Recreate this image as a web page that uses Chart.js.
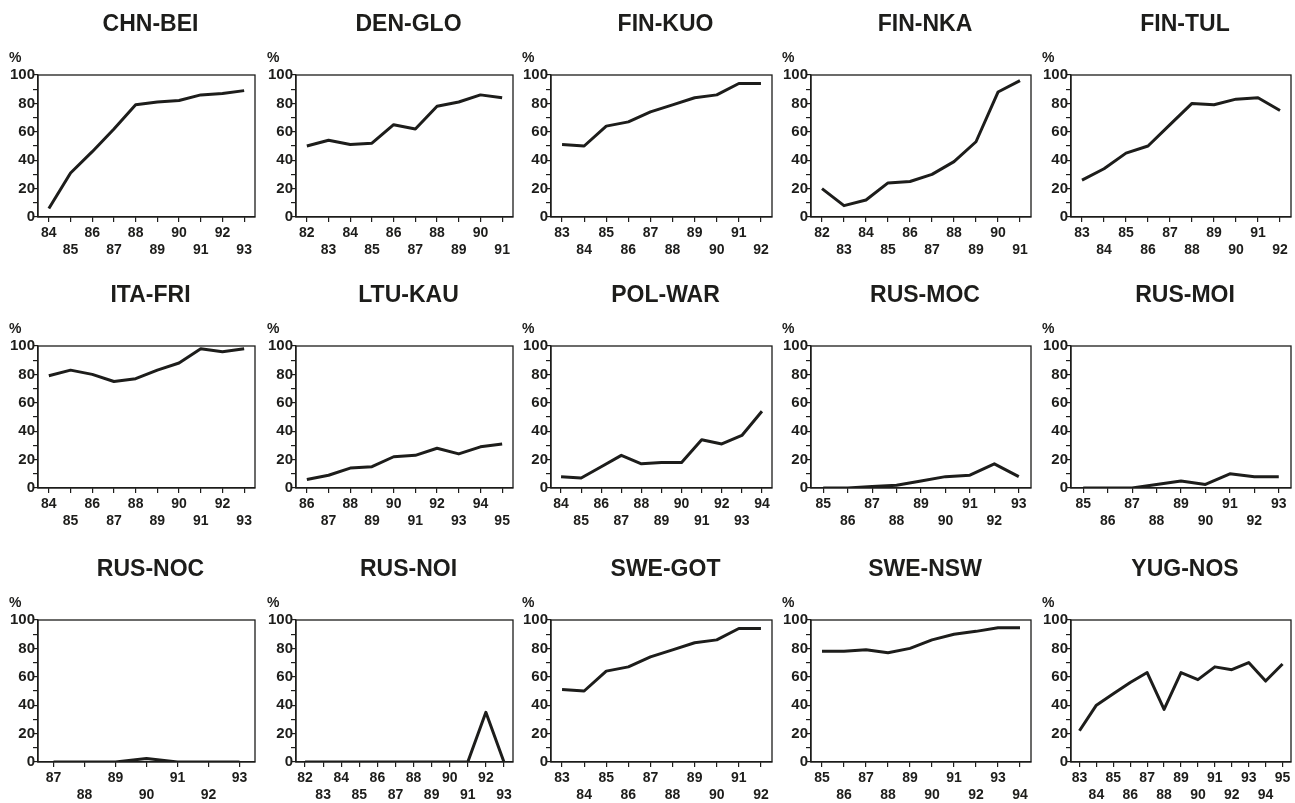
<!DOCTYPE html>
<html>
<head>
<meta charset="utf-8">
<title>Panels</title>
<script src="https://cdn.jsdelivr.net/npm/chart.js@4.4.0/dist/chart.umd.min.js"></script>
<style>
  html, body { margin: 0; padding: 0; background: #fff; }
  #wrap { position: relative; width: 1295px; height: 803px; overflow: hidden; }
  #wrap canvas { position: absolute; }
</style>
</head>
<body>
<div id="wrap"></div>
<script>
// values, one pair of arrays per panel
const chnBeiYears = ['84', '85', '86', '87', '88', '89', '90', '91', '92', '93'];
const chnBeiValues = [6, 31, 46, 62, 79, 81, 82, 86, 87, 89];

const denGloYears = ['82', '83', '84', '85', '86', '87', '88', '89', '90', '91'];
const denGloValues = [50, 54, 51, 52, 65, 62, 78, 81, 86, 84];

const finKuoYears = ['83', '84', '85', '86', '87', '88', '89', '90', '91', '92'];
const finKuoValues = [51, 50, 64, 67, 74, 79, 84, 86, 94, 94];

const finNkaYears = ['82', '83', '84', '85', '86', '87', '88', '89', '90', '91'];
const finNkaValues = [20, 8, 12, 24, 25, 30, 39, 53, 88, 96];

const finTulYears = ['83', '84', '85', '86', '87', '88', '89', '90', '91', '92'];
const finTulValues = [26, 34, 45, 50, 65, 80, 79, 83, 84, 75];

const itaFriYears = ['84', '85', '86', '87', '88', '89', '90', '91', '92', '93'];
const itaFriValues = [79, 83, 80, 75, 77, 83, 88, 98, 96, 98];

const ltuKauYears = ['86', '87', '88', '89', '90', '91', '92', '93', '94', '95'];
const ltuKauValues = [6, 9, 14, 15, 22, 23, 28, 24, 29, 31];

const polWarYears = ['84', '85', '86', '87', '88', '89', '90', '91', '92', '93', '94'];
const polWarValues = [8, 7, 15, 23, 17, 18, 18, 34, 31, 37, 54];

const rusMocYears = ['85', '86', '87', '88', '89', '90', '91', '92', '93'];
const rusMocValues = [0, 0, 1, 2, 5, 8, 9, 17, 8];

const rusMoiYears = ['85', '86', '87', '88', '89', '90', '91', '92', '93'];
const rusMoiValues = [0, 0, 0, 2.5, 5, 2.5, 10, 8, 8];

const rusNocYears = ['87', '88', '89', '90', '91', '92', '93'];
const rusNocValues = [0, 0, 0, 2.5, 0, 0, 0];

const rusNoiYears = ['82', '83', '84', '85', '86', '87', '88', '89', '90', '91', '92', '93'];
const rusNoiValues = [0, 0, 0, 0, 0, 0, 0, 0, 0, 0, 35, 0];

const sweGotYears = ['83', '84', '85', '86', '87', '88', '89', '90', '91', '92'];
const sweGotValues = [51, 50, 64, 67, 74, 79, 84, 86, 94, 94];

const sweNswYears = ['85', '86', '87', '88', '89', '90', '91', '92', '93', '94'];
const sweNswValues = [78, 78, 79, 77, 80, 86, 90, 92, 94.5, 94.5];

const yugNosYears = ['83', '84', '85', '86', '87', '88', '89', '90', '91', '92', '93', '94', '95'];
const yugNosValues = [22, 40, 48, 56, 63, 37, 63, 58, 67, 65, 70, 57, 69];

const panelTitles = ['CHN-BEI', 'DEN-GLO', 'FIN-KUO', 'FIN-NKA', 'FIN-TUL',
                     'ITA-FRI', 'LTU-KAU', 'POL-WAR', 'RUS-MOC', 'RUS-MOI',
                     'RUS-NOC', 'RUS-NOI', 'SWE-GOT', 'SWE-NSW', 'YUG-NOS'];
const panelYears = [chnBeiYears, denGloYears, finKuoYears, finNkaYears, finTulYears,
                    itaFriYears, ltuKauYears, polWarYears, rusMocYears, rusMoiYears,
                    rusNocYears, rusNoiYears, sweGotYears, sweNswYears, yugNosYears];
const panelValues = [chnBeiValues, denGloValues, finKuoValues, finNkaValues, finTulValues,
                     itaFriValues, ltuKauValues, polWarValues, rusMocValues, rusMoiValues,
                     rusNocValues, rusNoiValues, sweGotValues, sweNswValues, yugNosValues];

const yUnit = '%';

// layout of the 5 x 3 grid
const colLeft = [0, 258, 513, 773, 1033];
const colWidth = [259, 259, 263, 262, 262];
const rowTop = [0, 271, 545];
const panelHeight = 258;

const ink = '#1d1d1b';
const family = '"Liberation Sans", Arial, Helvetica, sans-serif';

// box round the plot + panel title + unit label
const frameAndTitle = {
  id: 'frameAndTitle',
  afterDraw(chart, args, opts) {
    const { ctx, chartArea: a } = chart;
    ctx.save();
    ctx.strokeStyle = ink;
    ctx.lineWidth = 1.3;
    ctx.strokeRect(a.left, a.top, a.right - a.left, a.bottom - a.top);
    ctx.fillStyle = ink;
    ctx.textBaseline = 'middle';
    ctx.textAlign = 'center';
    ctx.font = 'bold 23px ' + family;
    ctx.fillText(opts.text, (a.left + a.right) / 2 + 4, 25);
    ctx.textAlign = 'left';
    ctx.font = 'bold 14px ' + family;
    ctx.fillText(yUnit, 9, 58);
    ctx.restore();
  }
};

const wrap = document.getElementById('wrap');

panelTitles.forEach((title, i) => {
  const col = i % 5, row = Math.floor(i / 5);
  const canvas = document.createElement('canvas');
  canvas.width = colWidth[col];
  canvas.height = panelHeight;
  canvas.style.left = colLeft[col] + 'px';
  canvas.style.top = rowTop[row] + 'px';
  wrap.appendChild(canvas);

  new Chart(canvas.getContext('2d'), {
    type: 'line',
    data: {
      labels: panelYears[i],
      datasets: [{
        data: panelValues[i],
        borderColor: ink,
        borderWidth: 3,
        borderJoinStyle: 'round',
        pointRadius: 0,
        tension: 0,
        fill: false
      }]
    },
    options: {
      responsive: false,
      animation: false,
      layout: { padding: { top: 75, left: 8, right: 4, bottom: 0 } },
      plugins: {
        legend: { display: false },
        tooltip: { enabled: false },
        frameAndTitle: { text: title }
      },
      scales: {
        x: {
          offset: true,
          afterFit(scale) { scale.height = 41; },
          grid: { drawOnChartArea: false, drawTicks: true, tickLength: 5, color: ink, lineWidth: 1.2 },
          border: { display: true, color: ink, width: 1.3 },
          ticks: {
            autoSkip: false,
            maxRotation: 0,
            padding: 3,
            color: ink,
            font: { family: family, size: 14, weight: 'bold', lineHeight: 1.2 },
            callback(v, idx) {
              const lab = this.getLabelForValue(v);
              return idx % 2 ? ['', lab] : lab;
            }
          }
        },
        y: {
          min: 0,
          max: 100,
          afterFit(scale) { scale.width = 30; },
          grid: { drawOnChartArea: false, drawTicks: true, tickLength: 5, color: ink, lineWidth: 1.2 },
          border: { display: true, color: ink, width: 1.3 },
          ticks: {
            stepSize: 10,
            autoSkip: false,
            padding: -2,
            color: ink,
            font: { family: family, size: 15, weight: 'bold' },
            callback: v => (v % 20 === 0 ? String(v) : '')
          }
        }
      }
    },
    plugins: [frameAndTitle]
  });
});
</script>
</body>
</html>
